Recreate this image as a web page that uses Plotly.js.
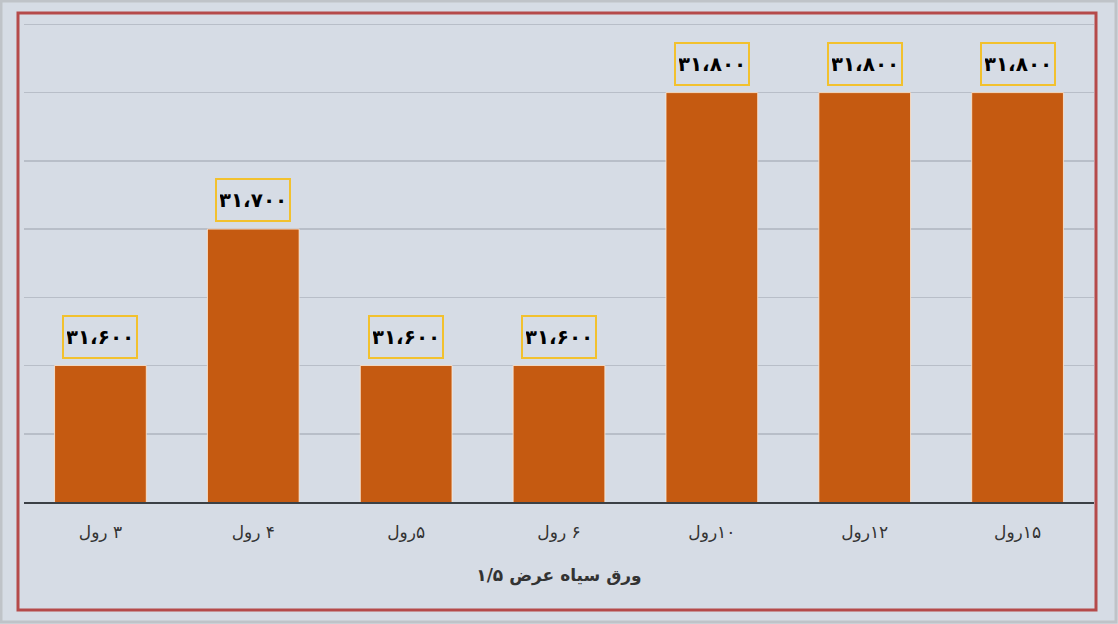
<!DOCTYPE html>
<html>
<head>
<meta charset="utf-8">
<script src="https://cdn.plot.ly/plotly-3.0.1.min.js"></script>
<style>
html,body{margin:0;padding:0;background:#d6dce5;}
#chart{width:1118px;height:624px;}
</style>
</head>
<body>
<div id="chart"></div>
<script>
const categories = ["۳ رول", "۴ رول", "۵رول", "۶ رول", "۱۰رول", "۱۲رول", "۱۵رول"];
const values = [31600, 31700, 31600, 31600, 31800, 31800, 31800];
const valueLabels = ["۳۱،۶۰۰", "۳۱،۷۰۰", "۳۱،۶۰۰", "۳۱،۶۰۰", "۳۱،۸۰۰", "۳۱،۸۰۰", "۳۱،۸۰۰"];
const xTitle = "ورق سیاه عرض ۱/۵";
const yRange = [31500, 31851];

const RLM = "\u200F";
const xs = categories.map(c => RLM + c);

const trace = {
  type: "bar",
  x: xs,
  y: values,
  marker: {color: "#c55a11", line: {color: "rgba(255,235,215,0.8)", width: 1}},
  width: 0.6,
  hoverinfo: "none"
};

const annotations = xs.map((x, i) => ({
  x: x, y: values[i], xref: "x", yref: "y",
  text: valueLabels[i], showarrow: false,
  yanchor: "bottom", yshift: 7,
  font: {family: "DejaVu Sans", size: 20, color: "#000", weight: "bold"},
  bordercolor: "#f2c12e", borderwidth: 2, borderpad: 3,
  width: 66, height: 34, bgcolor: "rgba(0,0,0,0)"
}));

const L = 24, R = 24, T = 23, B = 122, W = 1118, H = 624;
const pw = W - L - R, ph = H - T - B;
const px = v => (v - L) / pw;
const py = v => (H - B - v) / ph;

const layout = {
  width: W, height: H,
  margin: {l: L, r: R, t: T, b: B},
  paper_bgcolor: "#d6dce5",
  plot_bgcolor: "#d6dce5",
  showlegend: false,
  font: {family: "DejaVu Sans", color: "#333333"},
  xaxis: {
    type: "category",
    showgrid: false,
    showline: true, linecolor: "#3b4045", linewidth: 2,
    ticks: "outside", ticklen: 14, tickcolor: "rgba(0,0,0,0)",
    tickfont: {size: 17, color: "#333333"},
    title: {text: RLM + xTitle, font: {size: 17, color: "#333333", weight: "bold"}, standoff: 28},
    fixedrange: true
  },
  yaxis: {
    range: yRange,
    dtick: 50,
    tick0: 31500,
    showgrid: true, gridcolor: "#b8bec8", gridwidth: 1.5,
    showticklabels: false,
    zeroline: false, showline: false,
    fixedrange: true
  },
  annotations: annotations,
  shapes: [
    {type: "rect", xref: "paper", yref: "paper", layer: "above",
     x0: px(1), x1: px(1116), y0: py(1), y1: py(622),
     line: {color: "#bfc3c8", width: 3}},
    {type: "rect", xref: "paper", yref: "paper", layer: "above",
     x0: px(18), x1: px(1096), y0: py(13), y1: py(610),
     line: {color: "#b54a4a", width: 3}}
  ]
};

Plotly.newPlot("chart", [trace], layout, {staticPlot: true, displayModeBar: false});
</script>
</body>
</html>
